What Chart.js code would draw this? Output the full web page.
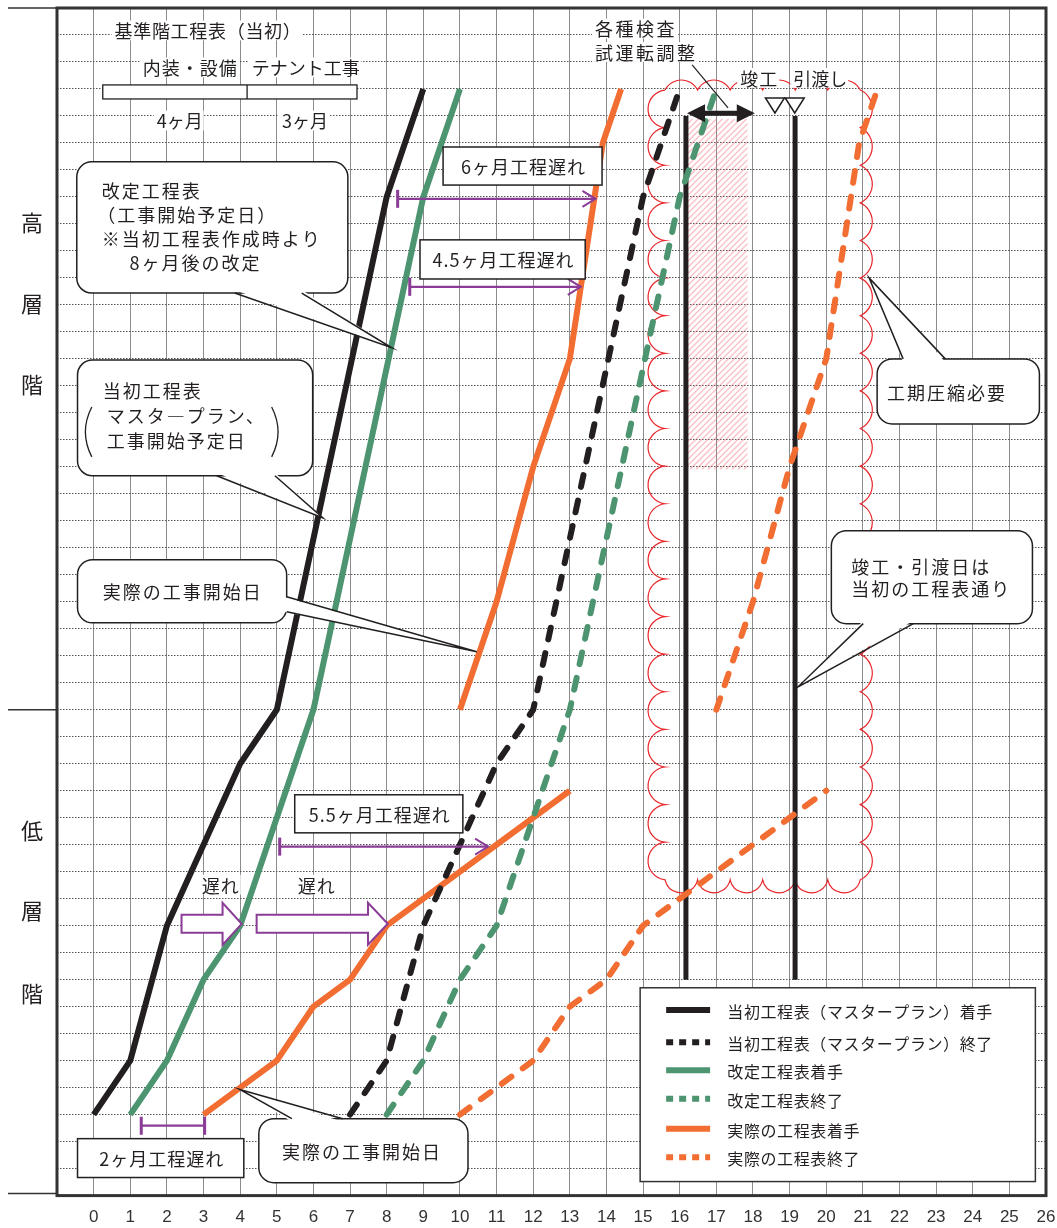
<!DOCTYPE html>
<html>
<head>
<meta charset="utf-8">
<script src="https://cdn.jsdelivr.net/npm/chart.js@4.4.1/dist/chart.umd.min.js"></script>
<style>
  html, body { margin: 0; padding: 0; background: #fff; overflow: hidden; }
  canvas { display: block; }
</style>
</head>
<body>
<canvas id="chart" width="1057" height="1228"></canvas>
<script>
// x = months from start, y = floor grid rows (0 = bottom, 18 = low/high boundary, 44 = top)
const legendLabels = [
  "当初工程表（マスタープラン）着手",
  "当初工程表（マスタープラン）終了",
  "改定工程表着手",
  "改定工程表終了",
  "実際の工程表着手",
  "実際の工程表終了"
];

const planStartX = [0, 1, 2, 4, 5, 8, 9];
const planStartY = [3, 5, 10, 16, 18, 37, 41];
const planEndX = [7, 8, 9, 11, 12, 15, 16];
const planEndY = [3, 5, 10, 16, 18, 37, 41];

const revStartX = [1, 2, 3, 4, 6, 9, 10];
const revStartY = [3, 5, 8, 10, 18, 37, 41];
const revEndX = [8, 9, 10, 11, 13, 16, 17];
const revEndY = [3, 5, 8, 10, 18, 37, 41];

const actStartLowX = [3, 4, 5, 6, 7, 8, 13];
const actStartLowY = [3, 4, 5, 7, 8, 10, 15];
const actStartHighX = [10, 11, 12, 13, 13.9, 14.4];
const actStartHighY = [18, 22, 27, 31, 39, 41];
const actEndLowX = [10, 11, 12, 13, 14, 15, 20];
const actEndLowY = [3, 4, 5, 7, 8, 10, 15];
const actEndHighX = [17, 18, 19, 20, 20.9, 21.4];
const actEndHighY = [18, 22, 27, 31, 39, 41];

// 竣工 / 引渡し verticals
const completionX = [16.17, 16.17];
const handoverX = [19.15, 19.15];
const verticalY = [8, 40];

const FONT = '"Noto Sans CJK JP", "Noto Sans", sans-serif';
const INK = "#231f20";
const GREEN = "#4d9470";
const ORANGE = "#f26d32";
const PURPLE = "#8a3c96";
const RED = "#e8262b";

function pts(xs, ys) {
  return xs.map((x, i) => ({ x: x, y: ys[i] }));
}

function line(label, color, data, dashed) {
  return {
    label: label,
    data: data,
    borderColor: color,
    backgroundColor: color,
    borderWidth: 6,
    borderDash: dashed ? [12, 14] : [],
    borderCapStyle: dashed ? "round" : "butt",
    borderJoinStyle: "round",
    pointRadius: 0,
    tension: 0,
    dashed: dashed
  };
}

// ---- annotation layout (data units) ----
const callouts = [
  { box: [-0.46, 38.3, 6.94, 33.44], tail: [[3.85, 33.44], [5.68, 33.44], [8.14, 31.41]], inward: [0, -1],
    lines: [["改定工程表", 0.22, 37.26], ["（工事開始予定日）", 0.1, 36.37], ["※当初工程表作成時より", 0.22, 35.48], ["8ヶ月後の改定", 0.98, 34.59]] },
  { box: [-0.44, 30.96, 5.98, 26.67], tail: [[3.36, 26.67], [4.95, 26.67], [6.26, 25.11]], inward: [0, -1],
    lines: [["当初工程表", 0.25, 29.85], ["マスタ―プラン、", 0.36, 28.93], ["工事開始予定日", 0.36, 28.0]] },
  { box: [-0.44, 23.56, 5.27, 21.22], tail: [[5.27, 22.19], [5.27, 21.63], [10.46, 20.15]], inward: [-1, 0],
    lines: [["実際の工事開始日", 0.25, 22.41]] },
  { box: [21.39, 31.0, 25.82, 28.59], tail: [[22.1, 31.0], [23.25, 31.0], [21.17, 34.0]], inward: [0, 1],
    lines: [["工期圧縮必要", 21.66, 29.78]] },
  { box: [20.14, 24.63, 25.63, 21.19], tail: [[21.01, 21.19], [22.38, 21.19], [19.23, 18.85]], inward: [0, -1],
    lines: [["竣工・引渡日は", 20.68, 23.33], ["当初の工程表通り", 20.68, 22.52]] },
  { box: [4.51, 2.85, 10.22, 0.48], tail: [[5.41, 2.85], [6.8, 2.85], [3.99, 3.93]], inward: [0, 1],
    lines: [["実際の工事開始日", 5.14, 1.63]] }
];

const delayBoxes = [
  { text: "6ヶ月工程遅れ", box: [9.54, 38.85, 13.88, 37.44] },
  { text: "4.5ヶ月工程遅れ", box: [8.91, 35.41, 13.42, 33.96] },
  { text: "5.5ヶ月工程遅れ", box: [5.49, 14.85, 10.08, 13.44] },
  { text: "2ヶ月工程遅れ", box: [-0.44, 2.11, 4.1, 0.67] }
];

const delaySpans = [
  { x1: 8.3, x2: 13.7, y: 36.93, both: false },
  { x1: 8.63, x2: 13.3, y: 33.67, both: false },
  { x1: 5.08, x2: 10.77, y: 12.93, both: false },
  { x1: 1.3, x2: 3.03, y: 2.59, both: true }
];

const blockArrows = [
  { x0: 2.4, xh: 3.52, xt: 4.04, y: 10.07 },
  { x0: 4.45, xh: 7.49, xt: 8.03, y: 10.07 }
];

const freeTexts = [
  { s: "基準階工程表（当初）", x: 0.57, y: 43.17, ls: 0.7, bg: true },
  { s: "内装・設備", x: 1.34, y: 41.8, ls: 1, bg: true },
  { s: "テナント工事", x: 4.32, y: 41.8, ls: 0, bg: true },
  { s: "4ヶ月", x: 2.35, y: 39.83, ls: 0, bg: true, center: true },
  { s: "3ヶ月", x: 5.77, y: 39.83, ls: 0, bg: true, center: true },
  { s: "各種検査", x: 13.69, y: 43.24, ls: 2.5, bg: true },
  { s: "試運転調整", x: 13.69, y: 42.37, ls: 2.5, bg: true },
  { s: "竣工", x: 17.65, y: 41.41, ls: 1, bg: true },
  { s: "引渡し", x: 19.1, y: 41.41, ls: 0, bg: true },
  { s: "遅れ", x: 3.47, y: 11.52, ls: 1, bg: true, center: true },
  { s: "遅れ", x: 6.09, y: 11.52, ls: 1, bg: true, center: true }
];

const sideLabels = [["高", 36.07], ["層", 33.1], ["階", 30.1], ["低", 13.56], ["層", 10.59], ["階", 7.52]];

const legendBox = [14.92, 7.7, 25.71, 0.52];
const legendRows = [6.88, 5.68, 4.64, 3.59, 2.48, 1.42];

function drawText(ctx, s, x, y, o) {
  o = o || {};
  ctx.save();
  ctx.font = (o.size || 18) + "px " + FONT;
  ctx.letterSpacing = (o.ls || 0) + "px";
  ctx.textBaseline = "middle";
  const w = ctx.measureText(s).width;
  let left = o.center ? x - w / 2 : x;
  if (o.bg) {
    ctx.fillStyle = "#fff";
    ctx.fillRect(left - 3, y - (o.size || 18) * 0.55, w + 4, (o.size || 18) * 1.1);
  }
  ctx.fillStyle = o.color || INK;
  ctx.textAlign = "left";
  ctx.fillText(s, left, y + 1);
  ctx.restore();
}

function arcSeg(ctx, ax, ay, bx, by, nx, ny, sag) {
  const c = Math.hypot(bx - ax, by - ay);
  const r = (c * c / 4 + sag * sag) / (2 * sag);
  const mx = (ax + bx) / 2, my = (ay + by) / 2;
  const cx = mx - nx * (r - sag), cy = my - ny * (r - sag);
  const a1 = Math.atan2(ay - cy, ax - cx);
  const a2 = Math.atan2(by - cy, bx - cx);
  const am = Math.atan2(ny, nx);
  const TAU = Math.PI * 2;
  const d = ((a2 - a1) % TAU + TAU) % TAU;
  const dm = ((am - a1) % TAU + TAU) % TAU;
  ctx.arc(cx, cy, r, a1, a2, !(dm < d));
}

const annotations = {
  id: "annotations",
  beforeDatasetsDraw(chart) {
    const ctx = chart.ctx;
    const X = v => chart.scales.x.getPixelForValue(v);
    const Y = v => chart.scales.y.getPixelForValue(v);

    // hatched band between completion and inspection arrow
    ctx.save();
    const hx0 = X(16.22), hx1 = X(17.85), hy0 = Y(39.9), hy1 = Y(26.9);
    ctx.beginPath();
    ctx.rect(hx0, hy0, hx1 - hx0, hy1 - hy0);
    ctx.clip();
    ctx.strokeStyle = "rgba(240, 110, 120, 0.42)";
    ctx.lineWidth = 1.5;
    for (let k = -400; k < 400; k += 6) {
      ctx.beginPath();
      ctx.moveTo(hx0 + k, hy1);
      ctx.lineTo(hx0 + k + (hy1 - hy0), hy0);
      ctx.stroke();
    }
    ctx.restore();

    // cloud outline
    const L = X(15.6), R = X(20.93), T = Y(40.96), B = Y(11.7);
    ctx.save();
    ctx.strokeStyle = RED;
    ctx.lineWidth = 1.2;
    ctx.beginPath();
    ctx.moveTo(L, T);
    const nTop = 6, nSide = 21, nBot = 6;
    for (let i = 0; i < nTop; i++) {
      arcSeg(ctx, L + (R - L) * i / nTop, T, L + (R - L) * (i + 1) / nTop, T, 0, -1, 10);
    }
    for (let i = 0; i < nSide; i++) {
      arcSeg(ctx, R, T + (B - T) * i / nSide, R, T + (B - T) * (i + 1) / nSide, 1, 0, 12);
    }
    for (let i = 0; i < nBot; i++) {
      arcSeg(ctx, R - (R - L) * i / nBot, B, R - (R - L) * (i + 1) / nBot, B, 0, 1, 13);
    }
    for (let i = 0; i < nSide; i++) {
      arcSeg(ctx, L, B - (B - T) * i / nSide, L, B - (B - T) * (i + 1) / nSide, -1, 0, 17);
    }
    ctx.stroke();
    ctx.restore();
  },
  afterDatasetsDraw(chart) {
    const ctx = chart.ctx;
    const area = chart.chartArea;
    const X = v => chart.scales.x.getPixelForValue(v);
    const Y = v => chart.scales.y.getPixelForValue(v);

    // plot frame and left-side floor bands
    ctx.save();
    ctx.strokeStyle = "#333";
    ctx.lineWidth = 3;
    ctx.strokeRect(area.left, area.top, area.right - area.left, area.bottom - area.top);
    ctx.lineWidth = 1.5;
    ctx.beginPath();
    [area.top, Y(18), area.bottom - 2].forEach(yy => {
      ctx.moveTo(8, yy);
      ctx.lineTo(area.left, yy);
    });
    ctx.stroke();
    ctx.restore();
    sideLabels.forEach(s => drawText(ctx, s[0], area.left - 25, Y(s[1]), { size: 22, center: true }));

    // base floor schedule bar
    ctx.save();
    ctx.strokeStyle = INK;
    ctx.fillStyle = "#fff";
    ctx.lineWidth = 1.3;
    const bx0 = X(0.25), bx1 = X(7.19), bxm = X(4.19), by0 = Y(41.15), by1 = Y(40.63);
    ctx.fillRect(bx0, by0, bx1 - bx0, by1 - by0);
    ctx.strokeRect(bx0, by0, bx1 - bx0, by1 - by0);
    ctx.beginPath();
    ctx.moveTo(bxm, by0);
    ctx.lineTo(bxm, by1);
    ctx.stroke();
    ctx.restore();

    freeTexts.forEach(t => drawText(ctx, t.s, X(t.x), Y(t.y), { ls: t.ls, bg: t.bg, center: t.center }));

    // leader to inspection arrow
    ctx.save();
    ctx.strokeStyle = INK;
    ctx.lineWidth = 1.2;
    ctx.beginPath();
    ctx.moveTo(X(16.34), Y(41.89));
    ctx.lineTo(X(17.32), Y(40.3));
    ctx.stroke();

    // double-headed inspection arrow
    const ax0 = X(16.2), ax1 = X(18.05), ay = Y(40.1);
    ctx.lineWidth = 5;
    ctx.beginPath();
    ctx.moveTo(ax0 + 14, ay);
    ctx.lineTo(ax1 - 14, ay);
    ctx.stroke();
    ctx.fillStyle = INK;
    ctx.beginPath();
    ctx.moveTo(ax0, ay); ctx.lineTo(ax0 + 18, ay - 9); ctx.lineTo(ax0 + 18, ay + 9); ctx.closePath();
    ctx.moveTo(ax1, ay); ctx.lineTo(ax1 - 18, ay - 9); ctx.lineTo(ax1 - 18, ay + 9); ctx.closePath();
    ctx.fill();

    // ▽▽ markers
    ctx.lineWidth = 1.5;
    ctx.fillStyle = "#fff";
    [18.6, 19.14].forEach(v => {
      const cx = X(v), t0 = Y(40.67), t1 = Y(40.11);
      ctx.beginPath();
      ctx.moveTo(cx - 9.5, t0); ctx.lineTo(cx + 9.5, t0); ctx.lineTo(cx, t1); ctx.closePath();
      ctx.fill();
      ctx.stroke();
    });
    ctx.restore();

    // purple delay spans
    ctx.save();
    ctx.strokeStyle = PURPLE;
    delaySpans.forEach(d => {
      const x1 = X(d.x1), x2 = X(d.x2), yy = Y(d.y);
      ctx.lineWidth = 2.2;
      ctx.beginPath();
      ctx.moveTo(x1, yy); ctx.lineTo(x2, yy);
      ctx.stroke();
      ctx.lineWidth = 3;
      ctx.beginPath();
      ctx.moveTo(x1, yy - 9); ctx.lineTo(x1, yy + 9);
      if (d.both) {
        ctx.moveTo(x2, yy - 9); ctx.lineTo(x2, yy + 9);
      }
      ctx.stroke();
      if (!d.both) {
        ctx.lineWidth = 2;
        ctx.beginPath();
        ctx.moveTo(x2 - 13, yy - 8); ctx.lineTo(x2, yy); ctx.lineTo(x2 - 13, yy + 8);
        ctx.stroke();
      }
    });
    // hollow block arrows
    ctx.lineWidth = 2;
    ctx.fillStyle = "#fff";
    blockArrows.forEach(a => {
      const x0 = X(a.x0), xh = X(a.xh), xt = X(a.xt), yy = Y(a.y);
      const bh = 9, hh = 21;
      ctx.beginPath();
      ctx.moveTo(x0, yy - bh); ctx.lineTo(xh, yy - bh); ctx.lineTo(xh, yy - hh); ctx.lineTo(xt, yy);
      ctx.lineTo(xh, yy + hh); ctx.lineTo(xh, yy + bh); ctx.lineTo(x0, yy + bh); ctx.closePath();
      ctx.fill();
      ctx.stroke();
    });
    ctx.restore();

    // square label boxes
    delayBoxes.forEach(b => {
      const x0 = X(b.box[0]), y0 = Y(b.box[1]), x1 = X(b.box[2]), y1 = Y(b.box[3]);
      ctx.save();
      ctx.fillStyle = "#fff";
      ctx.strokeStyle = INK;
      ctx.lineWidth = 1.5;
      ctx.fillRect(x0, y0, x1 - x0, y1 - y0);
      ctx.strokeRect(x0, y0, x1 - x0, y1 - y0);
      ctx.restore();
      drawText(ctx, b.text, (x0 + x1) / 2 + 1, (y0 + y1) / 2, { ls: 1, center: true });
    });

    // speech-bubble callouts
    callouts.forEach(c => {
      const x0 = X(c.box[0]), y0 = Y(c.box[1]), x1 = X(c.box[2]), y1 = Y(c.box[3]);
      const a = [X(c.tail[0][0]), Y(c.tail[0][1])];
      const b = [X(c.tail[1][0]), Y(c.tail[1][1])];
      const t = [X(c.tail[2][0]), Y(c.tail[2][1])];
      const n = c.inward;
      ctx.save();
      ctx.fillStyle = "#fff";
      ctx.strokeStyle = INK;
      ctx.lineWidth = 1.5;
      ctx.beginPath();
      ctx.roundRect(x0, y0, x1 - x0, y1 - y0, 15);
      ctx.fill();
      ctx.stroke();
      ctx.beginPath();
      ctx.moveTo(a[0] + n[0] * 3, a[1] + n[1] * 3);
      ctx.lineTo(t[0], t[1]);
      ctx.lineTo(b[0] + n[0] * 3, b[1] + n[1] * 3);
      ctx.closePath();
      ctx.fill();
      ctx.beginPath();
      ctx.moveTo(a[0], a[1]); ctx.lineTo(t[0], t[1]); ctx.lineTo(b[0], b[1]);
      ctx.stroke();
      ctx.restore();
      c.lines.forEach(l => drawText(ctx, l[0], X(l[1]), Y(l[2]), { ls: 2 }));
    });

    // tall brackets in the 当初工程表 bubble
    ctx.save();
    ctx.strokeStyle = INK;
    ctx.lineWidth = 1.3;
    ctx.beginPath();
    ctx.moveTo(X(-0.05), Y(29.22));
    ctx.quadraticCurveTo(X(-0.4), Y(28.3), X(-0.05), Y(27.37));
    ctx.moveTo(X(4.86), Y(29.22));
    ctx.quadraticCurveTo(X(5.21), Y(28.3), X(4.86), Y(27.37));
    ctx.stroke();
    ctx.restore();

    // legend
    const lx0 = X(legendBox[0]), ly0 = Y(legendBox[1]), lx1 = X(legendBox[2]), ly1 = Y(legendBox[3]);
    ctx.save();
    ctx.fillStyle = "#fff";
    ctx.strokeStyle = "#333";
    ctx.lineWidth = 1.5;
    ctx.fillRect(lx0, ly0, lx1 - lx0, ly1 - ly0);
    ctx.strokeRect(lx0, ly0, lx1 - lx0, ly1 - ly0);
    chart.data.datasets.slice(0, 6).forEach((ds, i) => {
      const yy = Y(legendRows[i]);
      ctx.strokeStyle = ds.borderColor;
      ctx.lineWidth = 6;
      ctx.lineCap = "butt";
      ctx.setLineDash(ds.dashed ? [7, 6] : []);
      ctx.beginPath();
      ctx.moveTo(X(15.63), yy);
      ctx.lineTo(X(16.83), yy);
      ctx.stroke();
      drawText(ctx, ds.label, X(17.3), yy + 1, { size: 16, ls: 0.6 });
    });
    ctx.restore();
  }
};

const chart = new Chart(document.getElementById("chart"), {
  type: "line",
  data: {
    datasets: [
      line(legendLabels[0], INK, pts(planStartX, planStartY), false),
      line(legendLabels[1], INK, pts(planEndX, planEndY), true),
      line(legendLabels[2], GREEN, pts(revStartX, revStartY), false),
      line(legendLabels[3], GREEN, pts(revEndX, revEndY), true),
      line(legendLabels[4], ORANGE, pts(actStartLowX, actStartLowY), false),
      line(legendLabels[5], ORANGE, pts(actEndLowX, actEndLowY), true),
      line(legendLabels[4], ORANGE, pts(actStartHighX, actStartHighY), false),
      line(legendLabels[5], ORANGE, pts(actEndHighX, actEndHighY), true),
      Object.assign(line("竣工", INK, pts(completionX, verticalY), false), { borderWidth: 5 }),
      Object.assign(line("引渡し", INK, pts(handoverX, verticalY), false), { borderWidth: 5 })
    ]
  },
  options: {
    responsive: false,
    animation: false,
    layout: { padding: { left: 57, right: 11, top: 8, bottom: 0 } },
    plugins: {
      legend: { display: false },
      tooltip: { enabled: false }
    },
    scales: {
      x: {
        type: "linear",
        min: -1,
        max: 26,
        grid: { color: "#8c8c8c", lineWidth: 1, drawTicks: true, tickLength: 12, tickColor: "rgba(0,0,0,0)" },
        border: { display: false },
        ticks: {
          stepSize: 1,
          autoSkip: false,
          maxRotation: 0,
          padding: 0,
          color: "#333",
          font: { family: "Liberation Sans", size: 17 },
          callback: v => (v < 0 ? "" : v)
        }
      },
      y: {
        type: "linear",
        min: 0,
        max: 44,
        grid: { color: "#555", lineWidth: 1, drawTicks: false },
        border: { display: false, dash: [1.5, 1.5] },
        ticks: { stepSize: 1, display: false }
      }
    }
  },
  plugins: [annotations]
});
</script>
</body>
</html>
